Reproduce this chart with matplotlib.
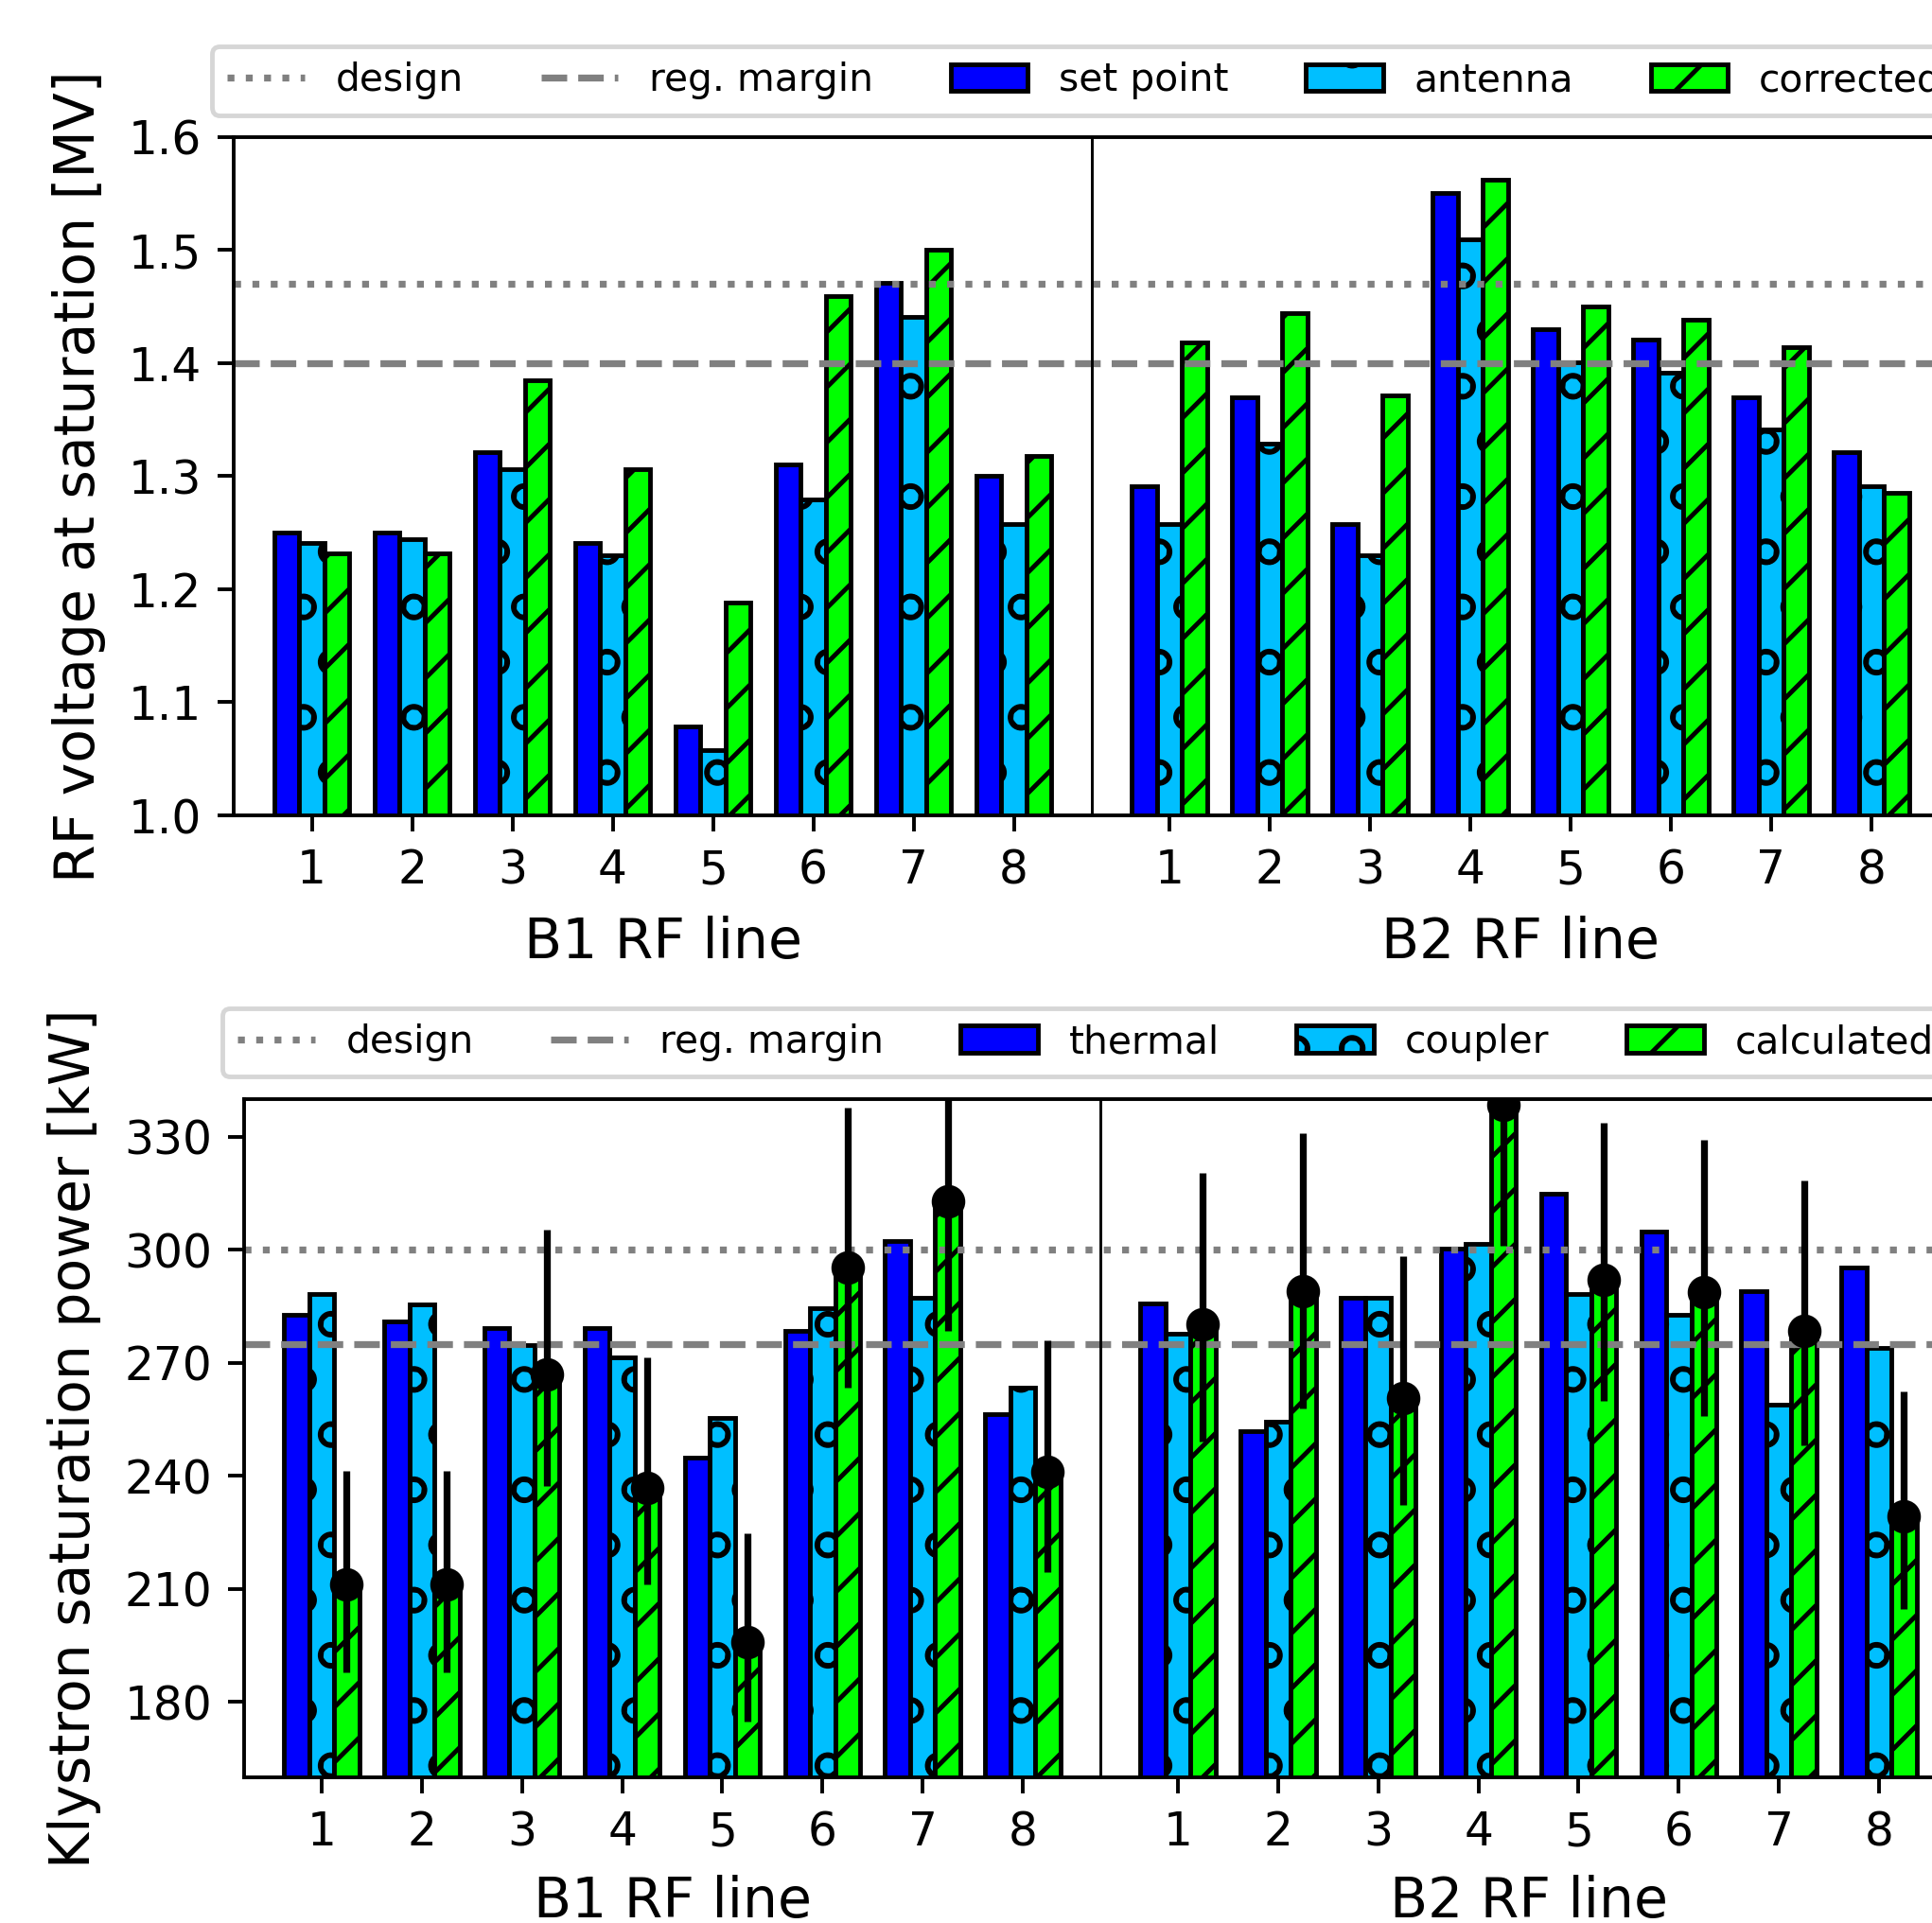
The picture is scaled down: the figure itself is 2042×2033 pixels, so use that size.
import numpy as np
import matplotlib
matplotlib.use("Agg")
import matplotlib.pyplot as plt
import matplotlib.transforms as mtransforms
from matplotlib.lines import Line2D

# ---------------- data ----------------
line_labels = ["1", "2", "3", "4", "5", "6", "7", "8"]

# RF voltage at saturation [MV]
b1_set_point = [1.250, 1.250, 1.321, 1.241, 1.079, 1.310, 1.471, 1.300]
b1_antenna   = [1.241, 1.244, 1.306, 1.230, 1.058, 1.279, 1.441, 1.258]
b1_corrected = [1.232, 1.232, 1.385, 1.306, 1.188, 1.459, 1.500, 1.318]
b2_set_point = [1.291, 1.370, 1.258, 1.550, 1.430, 1.421, 1.370, 1.321]
b2_antenna   = [1.258, 1.329, 1.230, 1.509, 1.401, 1.391, 1.341, 1.291]
b2_corrected = [1.418, 1.444, 1.371, 1.562, 1.450, 1.438, 1.414, 1.285]
voltage_design = 1.47
voltage_margin = 1.40

# Klystron saturation power [kW]
b1_thermal    = [282.8, 281.1, 279.3, 279.3, 244.9, 278.4, 302.4, 256.4]
b1_coupler    = [288.2, 285.5, 274.8, 271.5, 255.5, 284.6, 287.4, 263.5]
b1_calculated = [211.2, 211.2, 266.9, 236.9, 196.0, 295.3, 312.9, 241.1]
b1_err_low    = [23.3, 23.3, 29.5, 25.7, 21.2, 31.8, 34.4, 26.6]
b1_err_high   = [30.1, 30.1, 38.5, 34.6, 28.8, 42.5, 44.5, 34.9]
b2_thermal    = [285.7, 252.0, 287.4, 300.3, 315.0, 304.9, 289.0, 295.3]
b2_coupler    = [277.7, 254.5, 287.4, 301.6, 288.2, 282.8, 258.9, 274.0]
b2_calculated = [280.3, 289.0, 260.7, 338.4, 292.0, 288.7, 278.6, 229.4]
b2_err_low    = [31.3, 31.1, 28.5, 37.4, 32.2, 32.7, 30.5, 24.7]
b2_err_high   = [40.1, 41.9, 37.6, 48.0, 41.6, 40.5, 39.7, 33.1]
power_design = 300
power_margin = 275

# ---------------- style ----------------
DPI = 350
C_BLUE, C_CYAN, C_GREEN = "#0000ff", "#00bfff", "#00ff00"
plt.rcParams["font.family"] = ["DejaVu Sans"]
plt.rcParams["hatch.linewidth"] = 1.0
plt.rcParams["xtick.labelsize"] = 10
plt.rcParams["ytick.labelsize"] = 10

fig = plt.figure(figsize=(2042 / DPI, 2033 / DPI), dpi=DPI)

n = len(line_labels)
x1 = np.arange(n, dtype=float)
x2 = np.arange(n, dtype=float) + n + 0.55
xs = np.concatenate([x1, x2])
sep = (x1[-1] + x2[0]) / 2
w = 0.25


def panel(ax, s_blue, s_cyan, s_green, names, design, margin, ylabel,
          ylim, yticks, err=None, xlab_y=-0.18, leg_anchor=(-0.013, 1.032)):
    ax.axhline(design, color="grey", ls=":", lw=1.5, label="design")
    ax.axhline(margin, color="grey", ls="--", lw=1.5, label="reg. margin")
    b1 = ax.bar(xs - w, s_blue, w, color=C_BLUE, edgecolor="k", lw=1.0,
                label=names[0])
    b2 = ax.bar(xs, s_cyan, w, color=C_CYAN, edgecolor="k", lw=1.0,
                hatch="o", label=names[1])
    b3 = ax.bar(xs + w, s_green, w, color=C_GREEN, edgecolor="k", lw=1.0,
                hatch="//", label=names[2])
    if err is not None:
        ax.errorbar(xs + w, s_green, yerr=err, fmt="o", color="k", ms=6.3,
                    lw=1.5, capsize=0)
    ax.axvline(sep, color="k", lw=0.6)
    ax.set_xlim(x1[0] - 0.775, x2[-1] + 0.775)
    ax.set_ylim(*ylim)
    ax.set_yticks(yticks)
    ax.set_xticks(xs)
    ax.set_xticklabels(line_labels + line_labels)
    ax.set_ylabel(ylabel, fontsize=12, labelpad=5)
    tr = mtransforms.blended_transform_factory(ax.transData, ax.transAxes)
    ax.text(x1.mean(), xlab_y, "B1 RF line", transform=tr, ha="center",
            va="center", fontsize=12)
    ax.text(x2.mean(), xlab_y, "B2 RF line", transform=tr, ha="center",
            va="center", fontsize=12)
    handles = [Line2D([], [], color="grey", ls=":", lw=1.5),
               Line2D([], [], color="grey", ls="--", lw=1.5), b1, b2, b3]
    labels = ["design", "reg. margin"] + list(names)
    ax.legend(handles, labels, loc="lower left", bbox_to_anchor=leg_anchor,
              borderaxespad=0, ncol=5, fontsize=8.4)


ax_top = fig.add_axes([247.4 / 2042, (2033 - 862) / 2033,
                       1812.6 / 2042, 717.4 / 2033])
panel(ax_top, b1_set_point + b2_set_point, b1_antenna + b2_antenna,
      b1_corrected + b2_corrected, ("set point", "antenna", "corrected"),
      voltage_design, voltage_margin, "RF voltage at saturation [MV]",
      (1.0, 1.6), np.round(np.arange(1.0, 1.61, 0.1), 1), xlab_y=-0.187,
      leg_anchor=(-0.0129, 1.032))

ax_bot = fig.add_axes([258 / 2042, (2033 - 1879) / 2033,
                       1810 / 2042, 717 / 2033])
panel(ax_bot, b1_thermal + b2_thermal, b1_coupler + b2_coupler,
      b1_calculated + b2_calculated, ("thermal", "coupler", "calculated"),
      power_design, power_margin, "Klystron saturation power [kW]",
      (160, 340), np.arange(180, 331, 30),
      err=[b1_err_low + b2_err_low, b1_err_high + b2_err_high],
      xlab_y=-0.183, leg_anchor=(-0.0129, 1.033))

fig.savefig("out.png", dpi=DPI)
